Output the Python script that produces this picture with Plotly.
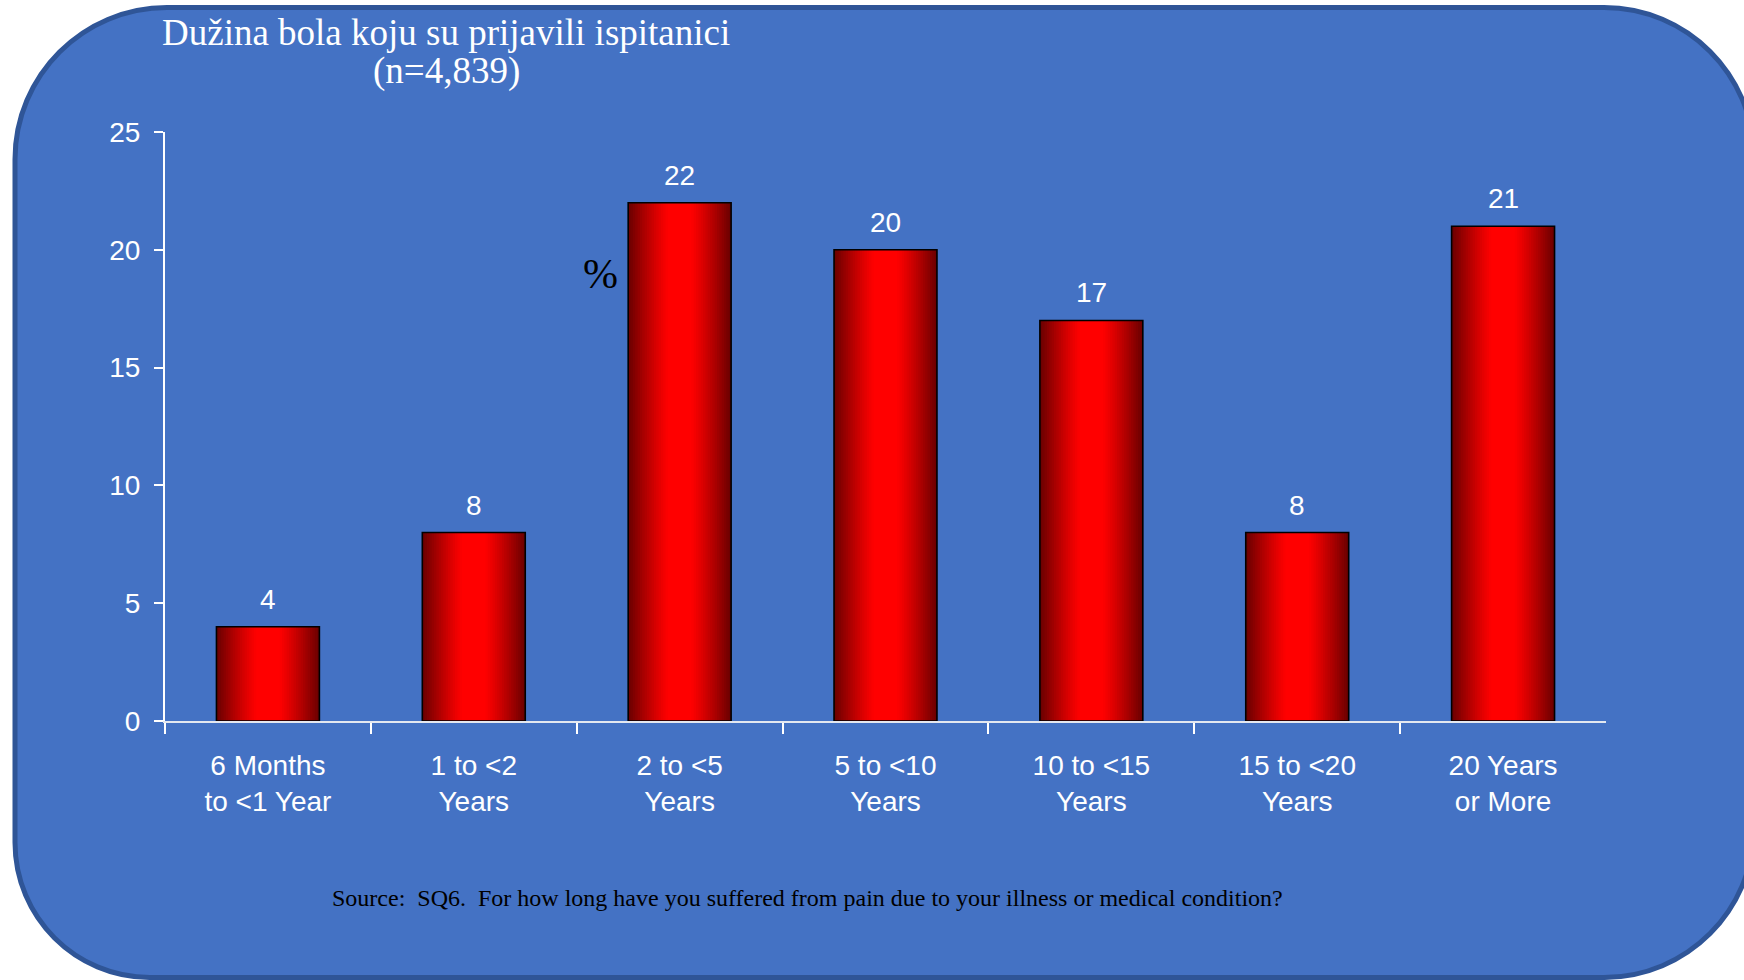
import plotly.graph_objects as go

categories = ["6 Months<br>to <1 Year", "1 to <2<br>Years", "2 to <5<br>Years",
              "5 to <10<br>Years", "10 to <15<br>Years", "15 to <20<br>Years",
              "20 Years<br>or More"]
values = [4, 8, 22, 20, 17, 8, 21]
y_ticks = [0, 5, 10, 15, 20, 25]
title_line1 = "Dužina bola koju su prijavili ispitanici"
title_line2 = "(n=4,839)"
y_unit = "%"
source_text = "Source:  SQ6.  For how long have you suffered from pain due to your illness or medical condition?"

W, H = 1744, 980
SANS = "Liberation Sans, Arial, sans-serif"
SERIF = "Liberation Serif, Times New Roman, serif"

def px(x):
    return x / W

def py(y):
    return 1 - y / H

# ---- background rounded box (pixel geometry -> paper coords)
L, T, R, B = 15, 7.5, 1754, 977.5
r_tl, r_tr, r_br, r_bl = 152, 150, 150, 135
k = 0.5523
def P(x, y):
    return f"{px(x):.5f},{py(y):.5f}"
path = (
    f"M {P(L + r_tl, T)} L {P(R - r_tr, T)} "
    f"C {P(R - r_tr + k*r_tr, T)} {P(R, T + r_tr - k*r_tr)} {P(R, T + r_tr)} "
    f"L {P(R, B - r_br)} "
    f"C {P(R, B - r_br + k*r_br)} {P(R - r_br + k*r_br, B)} {P(R - r_br, B)} "
    f"L {P(L + r_bl, B)} "
    f"C {P(L + r_bl - k*r_bl, B)} {P(L, B - r_bl + k*r_bl)} {P(L, B - r_bl)} "
    f"L {P(L, T + r_tl)} "
    f"C {P(L, T + r_tl - k*r_tl)} {P(L + r_tl - k*r_tl, T)} {P(L + r_tl, T)} Z"
)

fig = go.Figure()

# ---- gradient bars via overlaid narrowing bars
N = 22
full_w = 0.5
for i in range(N):
    w = full_w * (1 - i / N)
    d = 1 - (i + 0.5) / N  # distance from centre (0..1)
    if d <= 0.22:
        rv = 255
    else:
        t = (d - 0.22) / 0.78
        rv = int(255 - 150 * t ** 1.15)
    fig.add_trace(go.Bar(
        x=categories, y=values, width=w,
        marker=dict(color=f"rgb({rv},0,0)", line=dict(width=0)),
        hoverinfo="skip", showlegend=False,
    ))
# outline
fig.add_trace(go.Bar(
    x=categories, y=values, width=full_w,
    marker=dict(color="rgba(0,0,0,0)", line=dict(color="#000000", width=1.6)),
    showlegend=False,
))

# value labels
for c, v in zip(categories, values):
    fig.add_annotation(x=c, y=v, xref="x", yref="y", text=str(v),
                       showarrow=False, yanchor="bottom", yshift=10,
                       font=dict(family=SANS, size=28, color="white"))

fig.add_annotation(x=px(446), y=py(33), xref="paper", yref="paper", text=title_line1,
                   showarrow=False, xanchor="center", yanchor="middle",
                   font=dict(family=SERIF, size=37, color="white"))
fig.add_annotation(x=px(446), y=py(71), xref="paper", yref="paper", text=title_line2,
                   showarrow=False, xanchor="center", yanchor="middle",
                   font=dict(family=SERIF, size=37, color="white"))
fig.add_annotation(x=px(600), y=py(274), xref="paper", yref="paper", text=y_unit,
                   showarrow=False, xanchor="center", yanchor="middle",
                   font=dict(family=SERIF, size=42, color="black"))
fig.add_annotation(x=px(330), y=py(898), xref="paper", yref="paper", text=source_text,
                   showarrow=False, xanchor="left", yanchor="middle",
                   font=dict(family=SERIF, size=24, color="black"))

fig.update_layout(
    width=W, height=H, autosize=False,
    margin=dict(l=0, r=0, t=0, b=0, pad=0),
    paper_bgcolor="white",
    plot_bgcolor="rgba(0,0,0,0)",
    barmode="overlay",
    showlegend=False,
    shapes=[dict(type="path", path=path, xref="paper", yref="paper",
                 fillcolor="#4472C4", line=dict(color="#2F5597", width=5),
                 layer="below")],
    xaxis=dict(domain=[px(165), px(1606)], type="category", automargin=False,
               range=[-0.5, len(categories) - 0.5],
               showline=True, linecolor="#E4E8F0", linewidth=2,
               ticks="outside", tickson="boundaries", ticklen=11,
               tickcolor="white", tickwidth=1.5,
               tickfont=dict(family=SANS, size=28, color="white"),
               ticklabelstandoff=18,
               showgrid=False, zeroline=False, fixedrange=True),
    yaxis=dict(domain=[py(721), py(132)], range=[0, 25], automargin=False,
               tickvals=y_ticks,
               showline=True, linecolor="white", linewidth=2,
               ticks="outside", ticklen=9, tickcolor="white", tickwidth=1.5,
               tickfont=dict(family=SANS, size=28, color="white"),
               ticklabelstandoff=8,
               showgrid=False, zeroline=False, fixedrange=True),
)

fig.write_html("out.html", config={"displayModeBar": False},
               post_script="document.body.style.margin='0';document.body.style.overflow='hidden';")
